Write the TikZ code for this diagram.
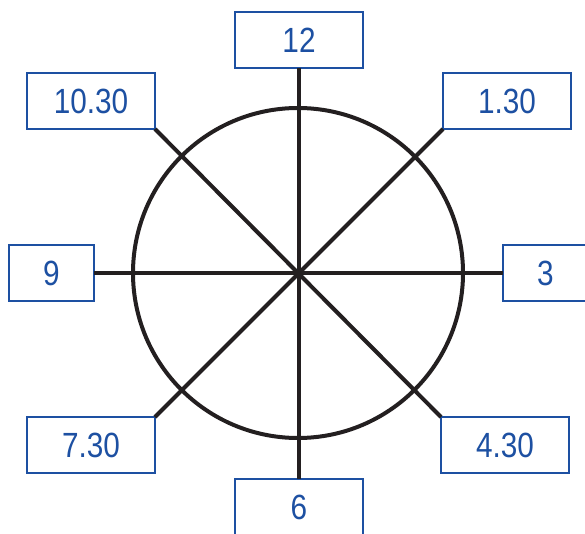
\documentclass[tikz,border=0pt]{standalone}
\usepackage{fontspec}
\setmainfont[FakeStretch=0.85]{Liberation Sans}
\usepackage{tikz}
\usetikzlibrary{positioning}
\definecolor{ClockBlue}{HTML}{1D50A2}
\definecolor{ClockBlack}{HTML}{231F20}

\begin{document}
\begin{tikzpicture}[x=1pt,y=-1pt]
\tikzstyle{hourbox}=[rectangle,draw=ClockBlue,line width=2pt,fill=white,text=ClockBlue,minimum width=128pt,minimum height=56pt,inner sep=0pt,outer sep=0pt,font=\fontsize{35}{35}\selectfont]
\tikzstyle{smallbox}=[hourbox,minimum width=85pt]
\tikzstyle{spoke}=[draw=ClockBlack,line width=4pt]
\useasboundingbox (0,0) rectangle (585,534);
\clip (0,0) rectangle (585,534);
\coordinate (o) at (298,273);
\draw[spoke] (o) circle (165);
\node[hourbox] (h12) at (299,40) {12};
\node[hourbox] (h1030) at (91,101) {10.30};
\node[hourbox] (h130) at (507,101) {1.30};
\node[smallbox] (h9) at (51.5,273) {9};
\node[smallbox] (h3) at (545.5,273) {3};
\node[hourbox] (h730) at (91,445) {7.30};
\node[hourbox] (h430) at (505,445) {4.30};
\node[hourbox] (h6) at (299,507) {6};
\draw[spoke] (h12.south) -- (h6.north);
\draw[spoke] (h9.east) -- (h3.west);
\draw[spoke] (h1030.south east) -- (h430.north west);
\draw[spoke] (h130.south west) -- (h730.north east);
\end{tikzpicture}
\end{document}
